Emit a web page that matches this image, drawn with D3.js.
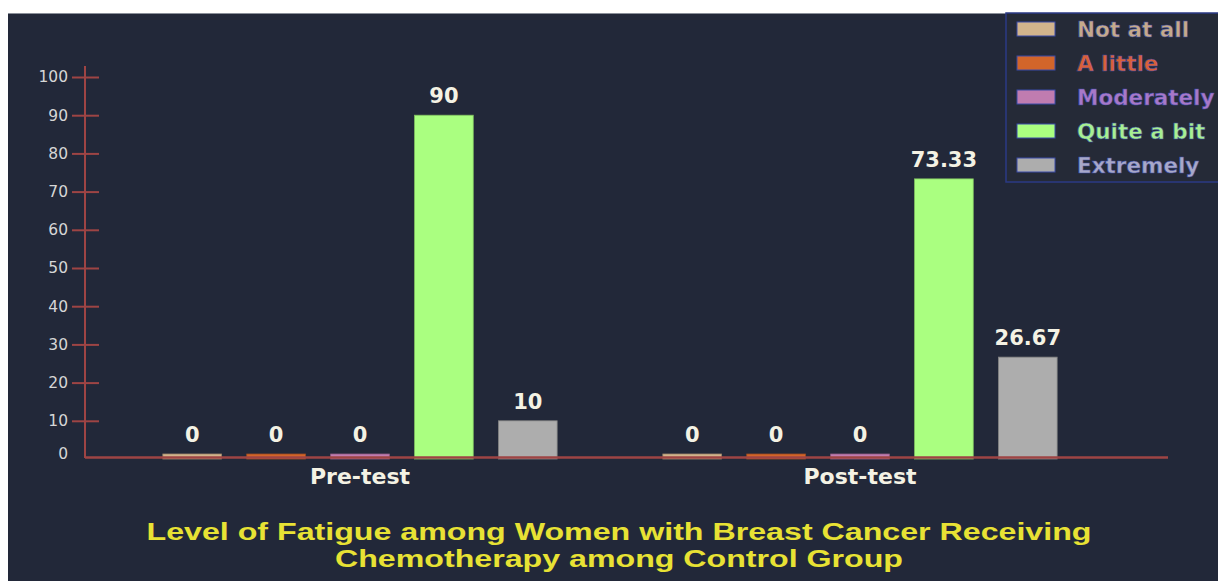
<!DOCTYPE html>
<meta charset="utf-8">
<head>
<style>
body { margin: 0; background: #fff; }
svg { display: block; }
</style>
</head>
<body>
<svg width="1218" height="581"></svg>
<script src="https://cdn.jsdelivr.net/npm/d3@7"></script>
<script>

var groups = ["Pre-test", "Post-test"];
var levels = ["Not at all", "A little", "Moderately", "Quite a bit", "Extremely"];
var preTest = [0, 0, 0, 90, 10];
var postTest = [0, 0, 0, 73.33, 26.67];
var yTicks = [0, 10, 20, 30, 40, 50, 60, 70, 80, 90, 100];
var barColors = ["#d2b48c", "#d2652a", "#c07cb0", "#aaff80", "#adadad"];
var legendText = ["#c6aa8a", "#d8603a", "#a878c8", "#a8f090", "#a8a8c8"];
var titleLines = ["Level of Fatigue among Women with Breast Cancer Receiving",
                  "Chemotherapy among Control Group"];

var svg = d3.select("svg"),
    width = +svg.attr("width"),
    height = +svg.attr("height");

// dark panel
svg.append("rect")
    .attr("x", 8).attr("y", 13)
    .attr("width", width - 8).attr("height", height - 13)
    .attr("fill", "#222839");
svg.append("line")
    .attr("x1", 8).attr("x2", width).attr("y1", 13.5).attr("y2", 13.5)
    .attr("stroke", "#8a8f99").attr("stroke-width", 1);

var axisColor = "#9e4444";
var y = d3.scaleLinear().domain([0, 100]).range([459, 77]);

var x0 = d3.scaleBand().domain(groups).range([110, 1110]).padding(0);
var x1 = d3.scaleBand().domain(levels).range([0, x0.bandwidth()])
    .paddingInner(0.3).paddingOuter(0.63);

var data = groups.map(function(g, i) {
  var vals = i == 0 ? preTest : postTest;
  return { group: g, values: levels.map(function(l, j) { return { level: l, value: vals[j], idx: j }; }) };
});

// y axis
var yAxis = svg.append("g")
    .attr("transform", "translate(85,0)")
    .call(d3.axisLeft(y).tickValues(yTicks).tickSize(13).tickPadding(4));
yAxis.select(".domain").remove();
yAxis.selectAll(".tick line")
    .attr("x2", 14).attr("x1", -13)
    .attr("stroke", axisColor).attr("stroke-width", 2);
yAxis.selectAll(".tick text")
    .attr("fill", "#d6d6d6")
    .style("font-family", "DejaVu Sans, sans-serif")
    .style("font-size", "15.5px")
    .attr("x", -17);
yAxis.selectAll(".tick").filter(function(d) { return d == 0; })
    .each(function() {
      d3.select(this).select("line").remove();
      d3.select(this).select("text").attr("dy", "-0.05em");
    });

svg.append("line")
    .attr("x1", 85).attr("x2", 85).attr("y1", 66).attr("y2", 458)
    .attr("stroke", axisColor).attr("stroke-width", 2);

// bars
var g = svg.selectAll(".grp").data(data).enter().append("g")
    .attr("class", "grp")
    .attr("transform", function(d) { return "translate(" + x0(d.group) + ",0)"; });

g.selectAll("rect").data(function(d) { return d.values; }).enter().append("rect")
    .attr("x", function(d) { return x1(d.level); })
    .attr("width", x1.bandwidth())
    .attr("y", function(d) { return Math.min(y(d.value), y(0) - 5); })
    .attr("height", function(d) { return Math.max(y(0) - y(d.value), 5); })
    .attr("fill", function(d) { return barColors[d.idx]; })
    .attr("stroke", function(d) { return d3.color(barColors[d.idx]).darker(0.8); })
    .attr("stroke-width", 0.8);

g.selectAll(".val").data(function(d) { return d.values; }).enter().append("text")
    .attr("class", "val")
    .attr("x", function(d) { return x1(d.level) + x1.bandwidth() / 2; })
    .attr("y", function(d) { return Math.min(y(d.value), y(0) - 5) - 12; })
    .attr("text-anchor", "middle")
    .attr("fill", "#f4f2e4")
    .style("font-family", "DejaVu Sans, sans-serif")
    .style("font-weight", "bold")
    .style("font-size", "21px")
    .text(function(d) { return d.value; });

// x axis
svg.append("line")
    .attr("x1", 85).attr("x2", 1168).attr("y1", 457.5).attr("y2", 457.5)
    .attr("stroke", axisColor).attr("stroke-width", 2.5);

svg.selectAll(".glabel").data(groups).enter().append("text")
    .attr("class", "glabel")
    .attr("x", function(d) { return x0(d) + x0.bandwidth() / 2; })
    .attr("y", 484)
    .attr("text-anchor", "middle")
    .attr("fill", "#f4f2e4")
    .style("font-family", "DejaVu Sans, sans-serif")
    .style("font-weight", "bold")
    .style("font-size", "22px")
    .text(function(d) { return d; });

// title (glyphs are wide in the original, so stretch to its measured width)
var titleWidths = [945, 568];
svg.selectAll(".title").data(titleLines).enter().append("text")
    .attr("class", "title")
    .attr("x", 619)
    .attr("y", function(d, i) { return 540 + i * 27; })
    .attr("text-anchor", "middle")
    .attr("textLength", function(d, i) { return titleWidths[i]; })
    .attr("lengthAdjust", "spacingAndGlyphs")
    .attr("fill", "#e8e234")
    .style("font-family", "Liberation Sans, Arial, sans-serif")
    .style("font-weight", "bold")
    .style("font-size", "24px")
    .text(function(d) { return d; });

// legend
var legend = svg.append("g");
legend.append("rect")
    .attr("x", 1006).attr("y", 13)
    .attr("width", 230).attr("height", 169)
    .attr("fill", "#252a37")
    .attr("stroke", "#2b3a85").attr("stroke-width", 1.5);

var item = legend.selectAll(".item").data(levels).enter().append("g")
    .attr("class", "item")
    .attr("transform", function(d, i) { return "translate(1017," + (29 + i * 34) + ")"; });
item.append("rect")
    .attr("x", 0).attr("y", -7).attr("width", 38).attr("height", 14)
    .attr("fill", function(d, i) { return barColors[i]; })
    .attr("stroke", "#3a4aa8").attr("stroke-width", 1);
item.append("text")
    .attr("x", 60).attr("y", 7.5)
    .attr("fill", function(d, i) { return legendText[i]; })
    .attr("stroke", "#3c4ca6").attr("stroke-width", 0.5)
    .style("font-family", "DejaVu Sans, sans-serif")
    .style("font-weight", "bold")
    .style("font-size", "21.5px")
    .text(function(d) { return d; });

</script>
</body>
